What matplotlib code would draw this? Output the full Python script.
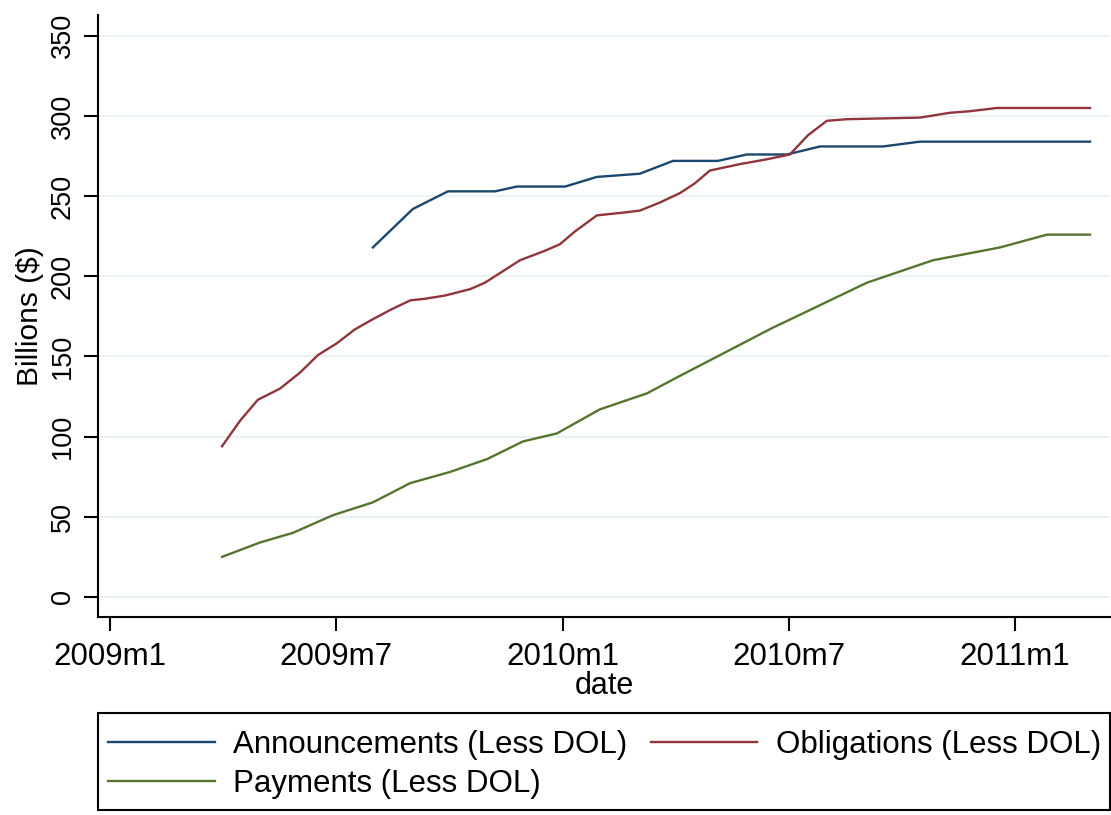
import matplotlib
matplotlib.use("Agg")
import matplotlib.pyplot as plt
from matplotlib.patches import Rectangle

plt.rcParams['font.family'] = ['Liberation Sans', 'DejaVu Sans']

# months since 2009m1 (fractional)
ann_month = [6.97, 7.5, 8.03, 8.96, 10.21, 10.79, 12.07, 12.91, 14.05, 14.93,
             16.12, 16.89, 17.95, 18.83, 20.5, 21.48, 25.99]
ann_value = [218, 230, 242, 253, 253, 256, 256, 262, 264, 272,
             272, 276, 276, 281, 281, 284, 284]

obl_month = [2.97, 3.45, 3.92, 4.51, 5.04, 5.52, 6.0, 6.5, 6.95, 7.43, 7.96,
             8.35, 8.88, 9.55, 9.94, 10.34, 10.87, 11.54, 11.93, 12.33, 12.91,
             13.71, 14.05, 14.58, 15.12, 15.51, 15.91, 16.71, 17.42, 18.03,
             18.51, 19.01, 19.54, 21.48, 22.27, 22.81, 23.52, 25.99]
obl_value = [94, 110, 123, 130, 140, 151, 158, 167, 173, 179, 185,
             186, 188, 192, 196, 202, 210, 216, 220, 228, 238,
             240, 241, 246, 252, 258, 266, 270, 273, 276,
             288, 297, 298, 299, 302, 303, 305, 305]

pay_month = [2.97, 3.98, 4.85, 5.91, 6.97, 7.96, 9.02, 10.0, 10.95, 11.85,
             12.99, 14.24, 15.04, 17.58, 18.03, 20.07, 21.82, 23.6, 24.85, 25.99]
pay_value = [25, 34, 40, 51, 59, 71, 78, 86, 97, 102,
             117, 127, 137, 168, 173, 196, 210, 218, 226, 226]

tick_months = [0, 6, 12, 18, 24]
tick_labels = ["2009m1", "2009m7", "2010m1", "2010m7", "2011m1"]
y_ticks = [0, 50, 100, 150, 200, 250, 300, 350]

navy = "#1a476f"
maroon = "#90353b"
green = "#55752f"

fig = plt.figure(figsize=(11.11, 8.15), dpi=100)
ax = fig.add_axes([98 / 1111, 1 - 617 / 815, 1012 / 1111, 602 / 815])

l1, = ax.plot(ann_month, ann_value, color=navy, lw=1.7, label="Announcements (Less DOL)")
l2, = ax.plot(obl_month, obl_value, color=maroon, lw=1.7, label="Obligations (Less DOL)")
l3, = ax.plot(pay_month, pay_value, color=green, lw=1.7, label="Payments (Less DOL)")

ax.set_xlim(-0.32, 26.52)
ax.set_ylim(-12.5, 363)
ax.set_yticks(y_ticks)
ax.set_yticklabels([str(v) for v in y_ticks], rotation=90, va="center", fontsize=19.5)
ax.set_xticks(tick_months)
ax.set_xticklabels(tick_labels, fontsize=22.5)
ax.tick_params(axis="both", direction="out", length=10, width=1.5, color="black")
ax.tick_params(axis="y", pad=6)
ax.tick_params(axis="x", pad=8)
ax.grid(axis="y", color="#eaf2f3", lw=1.5)
ax.set_axisbelow(True)
for side in ["top", "right"]:
    ax.spines[side].set_visible(False)
for side in ["left", "bottom"]:
    ax.spines[side].set_linewidth(1.5)

ax.set_ylabel("Billions ($)", fontsize=21.5, labelpad=4)
ax.set_xlabel("date", fontsize=22, labelpad=-1)

# legend box (Stata style)
fig.patches.append(Rectangle((98 / 1111, 5 / 815), 1012 / 1111, 97 / 815,
                             transform=fig.transFigure, fill=False,
                             edgecolor="black", lw=1.5))
fig.legend([l1, l3, l2], [l1.get_label(), l3.get_label(), l2.get_label()],
           ncol=2, loc="upper left", bbox_to_anchor=(102 / 1111, 1 - 724 / 815),
           frameon=False, fontsize=22.5, handlelength=3.4, handletextpad=0.6,
           columnspacing=0.75, labelspacing=0.28, borderpad=0.2,
           borderaxespad=0)

fig.savefig("out.png", dpi=100)
